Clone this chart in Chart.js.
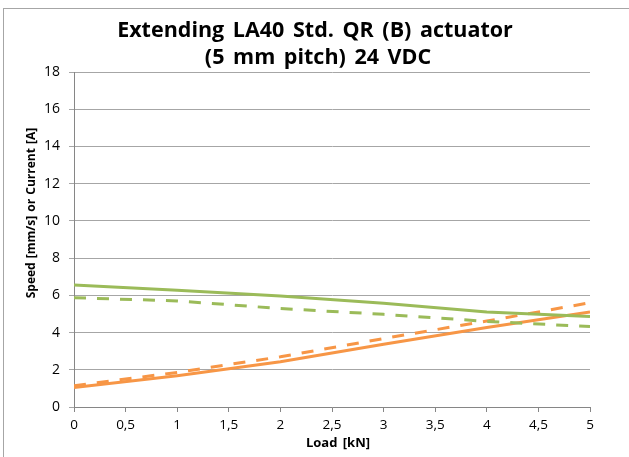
<!DOCTYPE html>
<html>
<head>
<meta charset="utf-8">
<script src="https://cdn.jsdelivr.net/npm/chart.js@4/dist/chart.umd.min.js"></script>
<style>
  html, body { margin: 0; padding: 0; background: #fff; }
  #wrap { position: relative; width: 629px; height: 457px; overflow: hidden; }
  #frame { position: absolute; left: 3px; top: 8px; right: -10px; bottom: -10px;
           border-left: 1px solid #a6a6a6; border-top: 1px solid #a6a6a6; pointer-events: none; }
</style>
</head>
<body>
<div id="wrap">
  <canvas id="chart" width="629" height="457"></canvas>
  <div id="frame"></div>
</div>
<script>
// load points [kN]
const loads = [0, 1, 2, 3, 4, 5];

// speed [mm/s] and current [A], measured (solid) and typical (dashed)
const speedSolid   = [6.55, 6.27, 5.96, 5.57, 5.10, 4.86];
const speedDashed  = [5.87, 5.70, 5.29, 4.98, 4.60, 4.32];
const currentSolid = [1.05, 1.68, 2.43, 3.37, 4.27, 5.10];
const currentDashed = [1.14, 1.86, 2.70, 3.68, 4.62, 5.60];

const titleLines = ["Extending LA40 Std. QR (B) actuator", "(5 mm pitch) 24 VDC"];
const yTitle = "Speed [mm/s] or Current [A]";
const xTitle = "Load [kN]";

const GREEN = "#9bbb59";
const ORANGE = "#f79646";
const FONT = "'Open Sans', Lato, sans-serif";

const pts = vals => loads.map((x, i) => ({ x: x, y: vals[i] }));

const line = (label, vals, color, dashed) => ({
  label: label,
  data: pts(vals),
  borderColor: color,
  borderWidth: 3,
  borderDash: dashed ? [12, 11] : [],
  pointRadius: 0,
  tension: 0,
  fill: false
});

// titles placed the way the spreadsheet put them (y title sits above centre)
const textPlugin = {
  id: "sheetTitles",
  afterDraw(chart) {
    const c = chart.ctx;
    c.save();
    c.fillStyle = "#000";
    c.textAlign = "center";
    c.textBaseline = "middle";
    c.font = "bold 21.5px " + FONT;
    c.wordSpacing = "3px";
    c.fillText(titleLines[0], 315, 31);
    c.fillText(titleLines[1], 318, 58);

    c.font = "bold 13px " + FONT;
    c.wordSpacing = "2px";
    c.fillText(xTitle, 338, 443);

    c.font = "bold 12px " + FONT;
    c.wordSpacing = "1px";
    c.translate(32, 213);
    c.rotate(-Math.PI / 2);
    c.fillText(yTitle, 0, 0);
    c.restore();
  }
};

new Chart(document.getElementById("chart"), {
  type: "line",
  data: {
    datasets: [
      line("Speed", speedSolid, GREEN, false),
      line("Speed typ.", speedDashed, GREEN, true),
      line("Current", currentSolid, ORANGE, false),
      line("Current typ.", currentDashed, ORANGE, true)
    ]
  },
  options: {
    responsive: false,
    animation: false,
    devicePixelRatio: 1,
    layout: { padding: { top: 72, right: 39, left: 0, bottom: 0 } },
    plugins: { legend: { display: false }, tooltip: { enabled: false } },
    scales: {
      x: {
        type: "linear",
        min: 0,
        max: 5,
        afterFit: s => { s.height = 50; },
        border: { color: "#868686", width: 1 },
        grid: { drawOnChartArea: false, drawTicks: true, tickLength: 5, color: "#868686" },
        ticks: {
          stepSize: 0.5,
          padding: 5,
          color: "#000",
          font: { family: FONT, size: 13.5 },
          callback: v => String(v).replace(".", ",")
        }
      },
      y: {
        min: 0,
        max: 18,
        afterFit: s => { s.width = 74; },
        border: { color: "#868686", width: 1 },
        grid: { color: "#a6a6a6", tickLength: 5, lineWidth: 1 },
        ticks: {
          stepSize: 2,
          padding: 9,
          color: "#000",
          font: { family: FONT, size: 14 }
        }
      }
    }
  },
  plugins: [textPlugin]
});
</script>
</body>
</html>
